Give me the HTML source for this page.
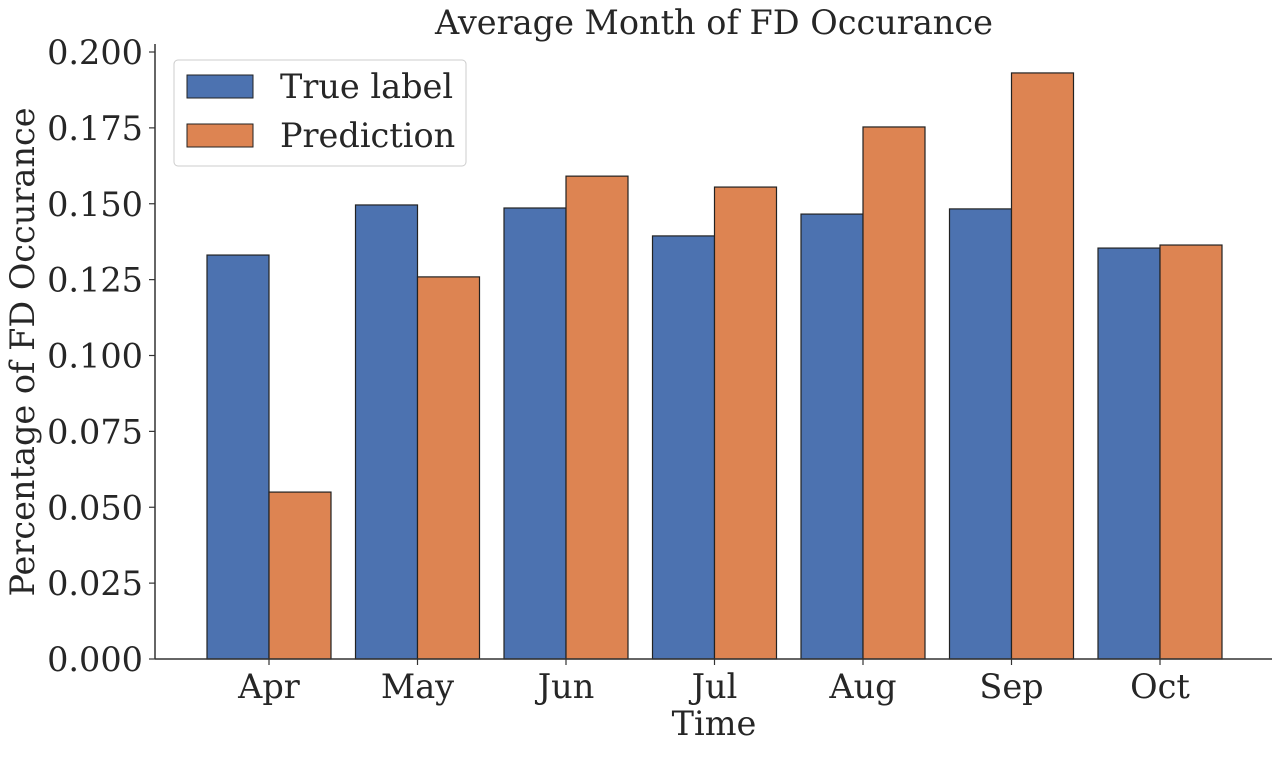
<!DOCTYPE html>
<html><head><meta charset="utf-8"><style>
body{margin:0;background:#fff;}
svg text{font-family:"DejaVu Serif","Liberation Serif",serif;fill:#262626;}
</style></head><body>
<svg id="chart" width="1282" height="752" xmlns="http://www.w3.org/2000/svg">
<text x="714" y="34" font-size="33.5" text-anchor="middle">Average Month of FD Occurance</text>
<g id="bars"></g>
<g id="axes"></g>
<text x="714" y="735" font-size="33.5" text-anchor="middle">Time</text>
<text transform="translate(34,352) rotate(-90)" font-size="33.5" text-anchor="middle">Percentage of FD Occurance</text>
<g>
<rect x="174" y="60" width="292" height="106" rx="4" fill="#fff" stroke="#ccc"/>
<rect x="187" y="75" width="66" height="23" fill="#4c72b0" stroke="#222"/>
<text x="280" y="98" font-size="33.5">True label</text>
<rect x="187" y="124" width="66" height="23" fill="#dd8452" stroke="#222"/>
<text x="280" y="147" font-size="33.5">Prediction</text>
</g>
</svg>
<script>
const categories=["Apr","May","Jun","Jul","Aug","Sep","Oct"];
const trueValues=[0.1331,0.1496,0.1486,0.1394,0.1466,0.1483,0.1354];
const predValues=[0.0550,0.1259,0.1591,0.1555,0.1753,0.1931,0.1364];
const yTicks=[0,0.025,0.05,0.075,0.1,0.125,0.15,0.175,0.2];
const NS="http://www.w3.org/2000/svg";
const y0=659,pxPerUnit=3035;
function yScale(v){return y0-v*pxPerUnit;}
function xCenter(i){return 269+i*148.5;}
const bw=62;
const bars=document.getElementById('bars'),axes=document.getElementById('axes');
function mk(tag,attrs,parent){const e=document.createElementNS(NS,tag);for(const k in attrs)e.setAttribute(k,attrs[k]);parent.appendChild(e);return e;}
categories.forEach((c,i)=>{
 const cx=xCenter(i);
 const b=mk('rect',{x:cx-bw,y:yScale(trueValues[i]),width:bw,height:y0-yScale(trueValues[i]),fill:'#4c72b0',stroke:'#222','stroke-width':1.2},bars);
 
 
 const p=mk('rect',{x:cx,y:yScale(predValues[i]),width:bw,height:y0-yScale(predValues[i]),fill:'#dd8452',stroke:'#222','stroke-width':1.2},bars);
 
 
 mk('line',{x1:cx,x2:cx,y1:y0,y2:y0+6,stroke:'#333','stroke-width':1.2},axes);
 const t=mk('text',{x:cx,y:698,'font-size':33.5,'text-anchor':'middle'},axes);
 t.textContent=c;
 
 
});
yTicks.forEach(v=>{
 const yy=yScale(v);
 mk('line',{x1:149,x2:155,y1:yy,y2:yy,stroke:'#333','stroke-width':1.2},axes);
 const t=mk('text',{x:143,y:yy+12,'font-size':33.5,'text-anchor':'end'},axes);
 t.textContent=v.toFixed(3);
 
 
});
const ya=mk('line',{x1:155,x2:155,y1:44,y2:y0,stroke:'#333','stroke-width':1.5},axes);


const xa=mk('line',{x1:155,x2:1272,y1:y0,y2:y0,stroke:'#333','stroke-width':1.5},axes);


</script>
</body></html>
